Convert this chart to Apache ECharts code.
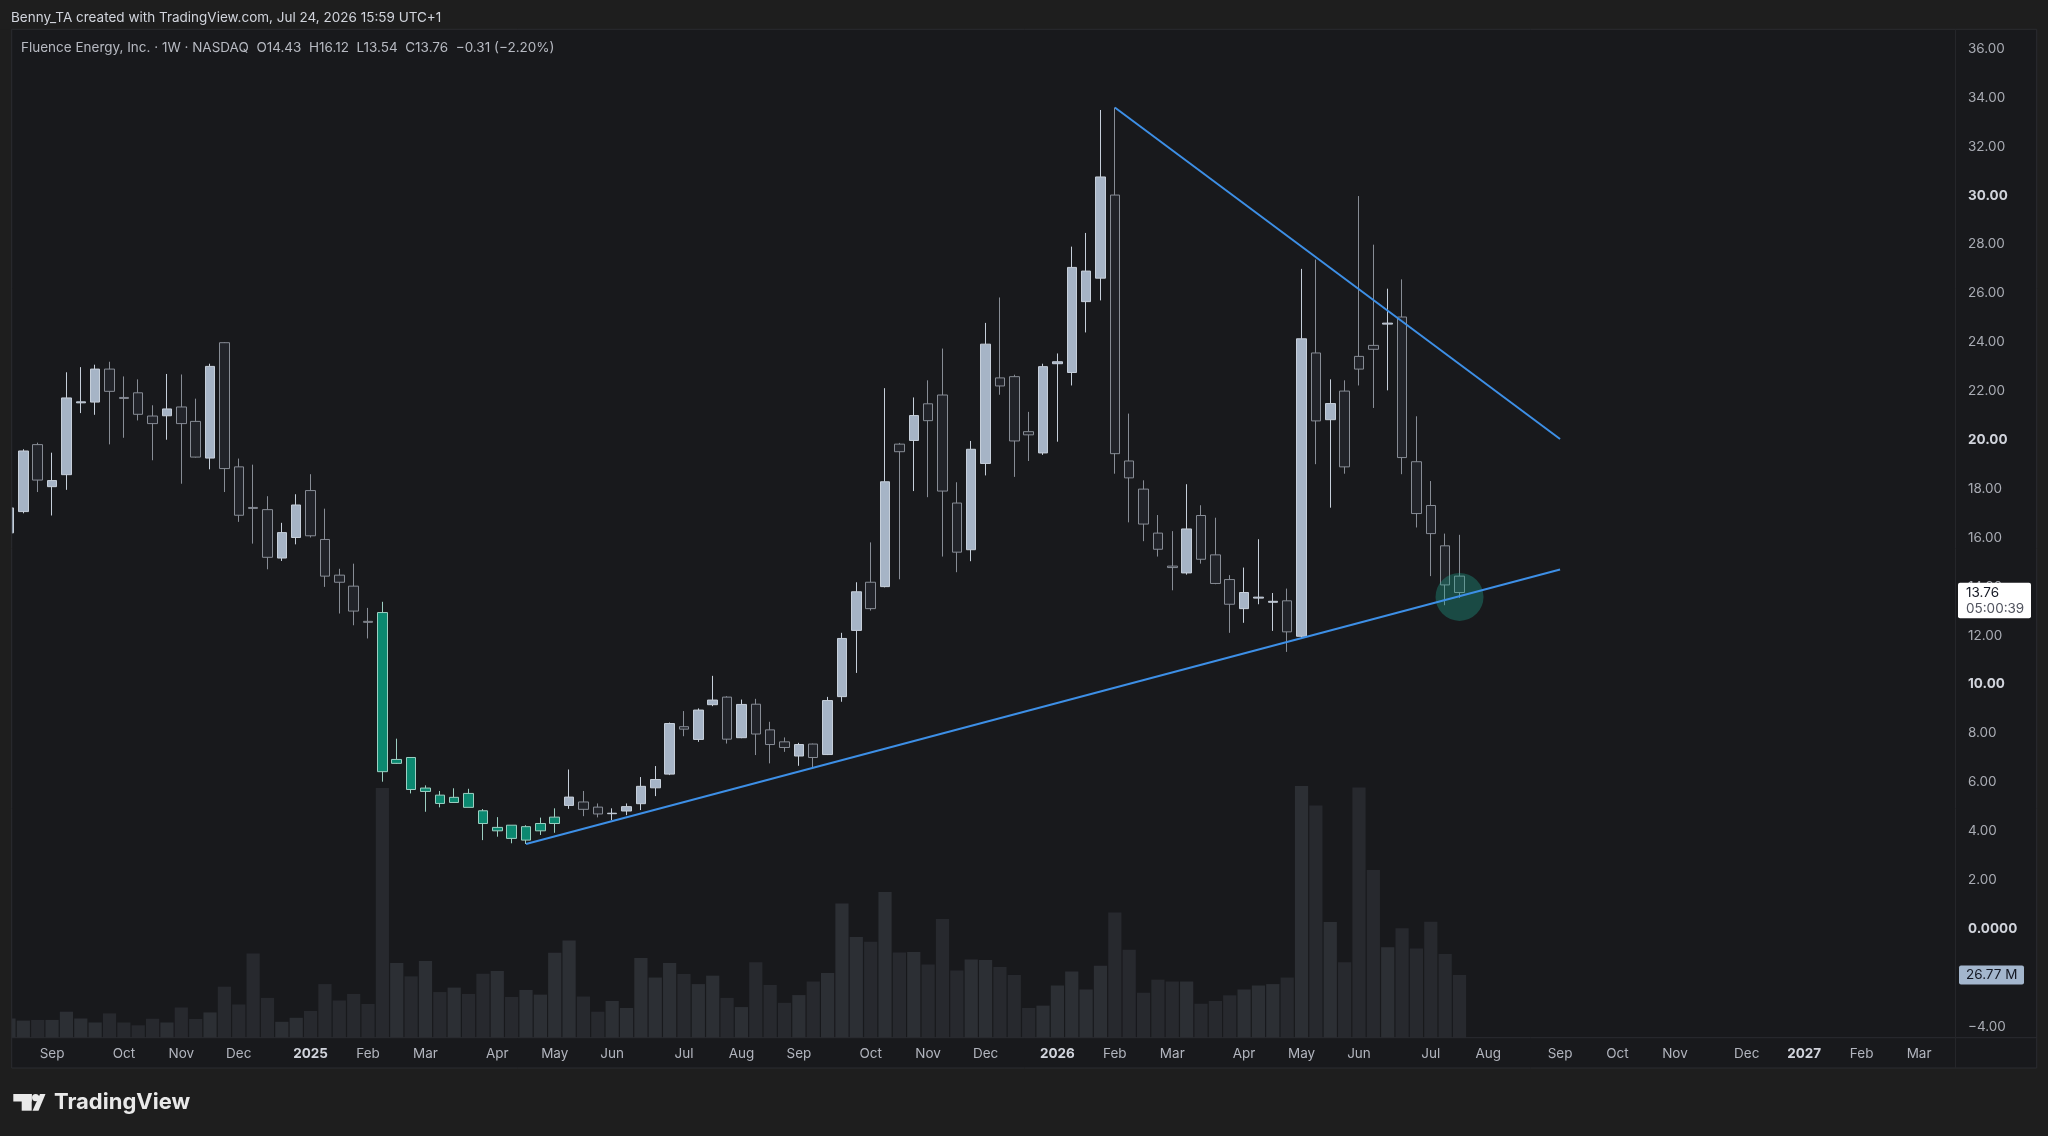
<!DOCTYPE html>
<html>
<head>
<meta charset="utf-8">
<script src="https://cdn.jsdelivr.net/npm/echarts@6/dist/echarts.min.js"></script>
<style>
  html, body { margin: 0; padding: 0; background: #1e1e1e; }
  #chart { width: 2048px; height: 1136px; }
</style>
</head>
<body>
<div id="chart"></div>
<script>
// ---------- DATA ----------
const START_WEEK = '2024-08-12';   // Monday of first weekly bar
const WEEK_COUNT = 136;            // bars + empty future weeks on the time axis
const MONTHS = ['Jan','Feb','Mar','Apr','May','Jun','Jul','Aug','Sep','Oct','Nov','Dec'];

const open  = [16.20,17.07,19.81,18.09,18.58,21.52,21.55,22.90,21.74,21.93,20.98,20.99,21.35,20.76,19.26,23.98,18.90,17.24,17.15,15.17,
               16.01,17.93,15.93,14.47,14.02,12.58,12.94,6.77,7.01,5.62,5.47,5.17,5.54,4.83,4.01,4.24,3.63,4.01,4.31,5.05,
               5.19,4.98,4.71,4.82,5.12,5.77,6.33,8.27,7.75,9.17,9.48,7.82,9.19,8.14,7.65,7.07,7.56,7.13,9.50,12.21,
               14.18,14.00,19.83,19.98,21.48,21.84,17.42,15.51,19.04,22.54,22.59,20.34,19.47,23.12,22.76,25.66,26.62,30.02,19.14,17.99,
               16.19,14.84,14.56,16.91,15.30,14.29,13.10,13.53,13.36,13.42,11.97,23.56,20.83,22.00,23.42,23.87,24.74,25.03,19.11,17.32,
               15.67,14.43];
const close = [17.22,19.55,18.36,18.34,21.72,21.56,22.90,21.99,21.70,21.05,20.67,21.27,20.67,19.30,23.01,18.83,16.92,17.20,15.20,16.21,
               17.34,16.08,14.43,14.18,13.00,12.54,6.43,6.93,5.70,5.76,5.13,5.38,4.97,4.31,4.15,3.70,4.18,4.31,4.57,5.39,
               4.89,4.70,4.73,5.00,5.83,6.11,8.40,8.17,8.95,9.36,7.76,9.18,7.97,7.54,7.42,7.54,7.01,9.34,11.88,13.79,
               13.10,18.29,19.52,21.00,20.79,17.91,15.41,19.62,23.92,22.21,19.96,20.21,23.00,23.20,27.06,26.91,30.76,19.44,18.45,16.56,
               15.53,14.78,16.36,15.12,14.13,13.28,13.76,13.57,13.40,12.15,24.14,20.78,21.49,18.90,22.90,23.71,24.78,19.28,16.99,16.17,
               14.07,13.76];
const low   = [16.10,17.00,17.87,16.91,17.96,21.10,21.03,19.82,20.09,20.80,19.17,20.01,18.21,19.28,18.80,17.87,16.65,15.76,14.71,15.05,
               15.73,16.01,13.99,12.90,12.42,11.88,6.02,6.75,5.54,4.79,4.97,5.15,4.97,3.63,3.77,3.50,3.47,3.84,3.93,4.91,
               4.61,4.56,4.45,4.65,4.86,5.43,6.29,7.88,7.65,9.11,7.58,7.80,7.11,6.77,7.24,6.67,6.60,7.11,9.29,10.47,
               13.02,13.97,14.30,17.91,17.66,15.23,14.59,15.04,18.55,21.85,18.49,19.14,19.39,19.93,22.23,24.40,25.71,18.62,16.63,15.86,
               15.23,13.85,14.49,14.94,14.10,12.11,12.52,13.28,12.19,11.33,11.90,19.01,17.23,18.62,22.23,21.31,22.03,18.60,16.42,14.43,
               13.24,13.54];
const high  = [17.30,19.62,19.89,19.48,22.77,22.98,23.08,23.20,22.60,22.48,21.42,22.70,22.68,21.69,23.12,24.00,19.24,18.99,17.70,16.61,
               17.78,18.60,17.19,14.73,14.94,13.13,13.38,7.78,7.03,5.87,5.64,5.75,5.73,4.90,4.57,4.24,4.24,4.55,4.93,6.52,
               5.64,5.13,4.93,5.13,6.21,6.66,8.44,8.91,9.02,10.35,9.52,9.38,9.41,8.47,7.83,7.61,7.58,9.49,12.11,14.18,
               15.81,22.12,19.88,21.74,22.44,23.74,18.27,19.96,24.79,25.83,22.67,21.15,23.12,23.54,27.91,28.47,33.50,33.60,21.08,18.35,
               16.93,16.27,18.19,17.33,16.82,14.47,14.78,15.94,13.74,13.92,27.00,27.38,22.48,22.44,29.98,27.99,26.19,26.57,20.97,18.32,
               16.17,16.12];
// weekly volume, millions of shares
const volume = [8.2,7.3,7.6,7.6,11.1,8.2,6.5,10.4,6.5,5.3,8.1,6.5,12.9,8.0,10.8,21.8,14.2,36.0,17.0,6.8,
                8.5,11.4,22.9,15.9,18.7,14.4,106.7,31.9,26.2,32.8,19.5,21.4,18.7,27.3,28.5,17.4,20.4,18.4,36.3,41.5,
                17.6,11.1,15.7,12.7,34.0,25.7,31.9,27.2,22.9,26.5,17.0,13.1,32.2,22.5,14.9,18.2,24.0,27.6,57.3,43.0,
                41.0,62.2,36.4,36.6,31.3,50.7,28.7,33.4,33.2,30.2,26.8,12.7,13.7,22.3,28.3,20.6,30.7,53.5,37.6,19.2,
                24.8,24.0,24.0,14.5,15.7,18.1,20.6,22.3,22.9,25.7,107.5,99.2,49.4,32.2,106.9,71.6,38.6,46.7,38.1,49.5,
                35.7,26.77];
const tealRange = [26, 38];               // highlighted bars (first, last index)
const trendLines = [                      // [barIndex, price] endpoints
  [[36, 3.47], [108, 14.70]],
  [[77, 33.60], [108, 20.04]]
];
const highlightCircle = [101, 13.58];
const countdown = '05:00:39';
const priceTicks = { min: -6, max: 38, step: 2, shownMin: -4, shownMax: 36 };

// ---------- BUILD ----------
const DAY = 86400000;
const startMs = Date.parse(START_WEEK + 'T00:00:00Z');
const categories = [];
for (let i = 0; i < WEEK_COUNT; i++) {
  categories.push(new Date(startMs + i * 7 * DAY).toISOString().slice(0, 10));
}
const monthOf = s => +s.slice(5, 7) - 1;

const FONT = 'Inter, "Noto Sans", Roboto, sans-serif';
const UP_FILL = '#a6b4c6', UP_BORDER = '#c6cfda';
const DN_FILL = '#212329', DN_BORDER = '#878c95';
const TEAL_FILL = '#0b8870', TEAL_BORDER = '#9ccfc2';

const candleData = open.map((o, i) => {
  const item = { value: [o, close[i], low[i], high[i]] };
  if (i >= tealRange[0] && i <= tealRange[1]) {
    item.itemStyle = { color: TEAL_FILL, color0: TEAL_FILL, borderColor: TEAL_BORDER, borderColor0: TEAL_BORDER };
  }
  return item;
});
const volumeData = volume.map((v, i) => ({
  value: v,
  itemStyle: { color: close[i] >= open[i] ? '#2c2f34' : '#27292e' }
}));

const last = open.length - 1;
const chg = close[last] - close[last - 1];
const pct = chg / close[last - 1] * 100;
const fmtSigned = v => (v < 0 ? '\u2212' : '+') + Math.abs(v).toFixed(2);

const chart = echarts.init(document.getElementById('chart'), null, { renderer: 'canvas' });

const option = {
  backgroundColor: '#1e1e1e',
  animation: false,
  textStyle: { fontFamily: FONT },
  grid: [
    { left: 1.8, right: 93, top: -0.62, height: 1076.12 },
    { left: 1.8, right: 93, top: 29.3, bottom: 98.3 }
  ],
  xAxis: [
    { type: 'category', gridIndex: 0, data: categories, boundaryGap: true, show: false },
    {
      type: 'category', gridIndex: 1, data: categories, boundaryGap: true,
      axisLine: { show: false }, axisTick: { show: false }, splitLine: { show: false },
      axisLabel: {
        margin: 9, fontSize: 13.5, color: '#b2b5be', fontFamily: FONT,
        interval: (idx) => idx > 0 && monthOf(categories[idx]) !== monthOf(categories[idx - 1]),
        formatter: (val) => {
          const m = monthOf(val);
          return m === 0 ? '{y|' + val.slice(0, 4) + '}' : MONTHS[m];
        },
        rich: { y: { fontWeight: 'bold', color: '#d1d4dc', fontSize: 13.5, fontFamily: FONT } }
      }
    }
  ],
  yAxis: [
    {
      type: 'value', gridIndex: 0, position: 'right', scale: true,
      min: priceTicks.min, max: priceTicks.max, interval: priceTicks.step,
      axisLine: { show: false }, axisTick: { show: false }, splitLine: { show: false },
      axisLabel: {
        margin: 13, fontSize: 13.5, color: '#a9acb4', fontFamily: FONT,
        formatter: (v) => {
          if (v > priceTicks.shownMax || v < priceTicks.shownMin) return '';
          let s = v === 0 ? '0.0000' : Math.abs(v).toFixed(2);
          if (v < 0) s = '\u2212' + s;
          return v % 10 === 0 ? '{b|' + s + '}' : s;
        },
        rich: { b: { fontWeight: 'bold', color: '#d1d4dc', fontSize: 13.5, fontFamily: FONT } }
      }
    },
    { type: 'value', gridIndex: 1, min: 0, max: 430.7, show: false }
  ],
  series: [
    {
      type: 'bar', name: 'Volume', xAxisIndex: 1, yAxisIndex: 1,
      data: volumeData, barCategoryGap: '8%', z: 1, silent: true
    },
    {
      type: 'candlestick', name: 'FLNC', xAxisIndex: 0, yAxisIndex: 0,
      data: candleData, barWidth: 10, z: 3,
      itemStyle: { color: UP_FILL, color0: DN_FILL, borderColor: UP_BORDER, borderColor0: DN_BORDER, borderWidth: 1 }
    },
    {
      type: 'scatter', xAxisIndex: 0, yAxisIndex: 0, z: 4, silent: true,
      data: [[categories[highlightCircle[0]], highlightCircle[1]]],
      symbolSize: 48, itemStyle: { color: 'rgba(34,171,148,0.42)' }
    },
    {
      type: 'line', xAxisIndex: 0, yAxisIndex: 0, z: 5, data: [], silent: true,
      markLine: {
        silent: true, symbol: ['none', 'none'], label: { show: false },
        lineStyle: { color: '#3d8fe6', width: 2, type: 'solid' },
        emphasis: { disabled: true },
        data: trendLines.map(([a, b]) => [
          { coord: [categories[a[0]], a[1]] },
          { coord: [categories[b[0]], b[1]] }
        ])
      }
    }
  ]
};
chart.setOption(option);

// ---------- DECORATION (text + tags positioned through the axes) ----------
const yPrice = chart.convertToPixel({ yAxisIndex: 0 }, close[last]);
const yVol = chart.convertToPixel({ yAxisIndex: 1 }, volume[last]);

const BOX = { x: 11.7, y: 29.3, w: 2025, h: 1038.7 };
const graphic = [
  { type: 'rect', z: -10, shape: { x: BOX.x, y: BOX.y, width: BOX.w, height: BOX.h }, style: { fill: '#18191c' } },
  { type: 'rect', z: 50, shape: { x: 0, y: BOX.y, width: BOX.x, height: BOX.h }, style: { fill: '#1e1e1e' } },
  { type: 'rect', z: 51, shape: { x: BOX.x, y: BOX.y, width: BOX.w, height: BOX.h }, style: { fill: 'none', stroke: '#2b2c30', lineWidth: 1 } },
  { type: 'line', z: 51, shape: { x1: BOX.x, y1: 1037.7, x2: BOX.x + BOX.w, y2: 1037.7 }, style: { stroke: '#2b2c30', lineWidth: 1 } },
  { type: 'line', z: 51, shape: { x1: 1955.5, y1: BOX.y, x2: 1955.5, y2: BOX.y + BOX.h }, style: { stroke: '#25262a', lineWidth: 1 } },
  { type: 'text', z: 52, style: { x: 11, y: 17.5, text: 'Benny_TA created with TradingView.com, Jul 24, 2026 15:59 UTC+1',
      fill: '#d1d4dc', font: '13.5px ' + FONT, verticalAlign: 'middle' } },
  { type: 'text', z: 52, style: { x: 21, y: 48.3,
      text: 'Fluence Energy, Inc. \u00b7 1W \u00b7 NASDAQ  O' + open[last].toFixed(2) + '  H' + high[last].toFixed(2) +
            '  L' + low[last].toFixed(2) + '  C' + close[last].toFixed(2) + '  ' + fmtSigned(chg) + ' (' + fmtSigned(pct) + '%)',
      fill: '#b7bac2', font: '13.5px ' + FONT, verticalAlign: 'middle' } },
  // price tag
  { type: 'rect', z: 60, shape: { x: 1958, y: yPrice - 9.8, width: 73, height: 35.5, r: 2 }, style: { fill: '#ffffff' } },
  { type: 'text', z: 61, style: { x: 1966, y: yPrice, text: close[last].toFixed(2), fill: '#131722', font: '13.5px ' + FONT, verticalAlign: 'middle' } },
  { type: 'text', z: 61, style: { x: 1966, y: yPrice + 16.5, text: countdown, fill: '#50535e', font: '13.5px ' + FONT, verticalAlign: 'middle' } },
  // volume tag
  { type: 'rect', z: 60, shape: { x: 1959, y: yVol - 9.5, width: 65, height: 19, r: 2 }, style: { fill: '#a3b6cd' } },
  { type: 'text', z: 61, style: { x: 1966, y: yVol, text: volume[last].toFixed(2) + ' M', fill: '#131722', font: '13.5px ' + FONT, verticalAlign: 'middle' } },
  // TradingView logo
  { type: 'rect', z: 52, shape: { x: 13.3, y: 1094, width: 18.4, height: 7.5 }, style: { fill: '#e9e9e9' } },
  { type: 'rect', z: 52, shape: { x: 21.7, y: 1094, width: 10, height: 16.7 }, style: { fill: '#e9e9e9' } },
  { type: 'circle', z: 52, shape: { cx: 35.6, cy: 1097.6, r: 3.6 }, style: { fill: '#e9e9e9' } },
  { type: 'polygon', z: 52, shape: { points: [[40, 1094], [45.5, 1094], [38.5, 1110.7], [32.5, 1110.7]] }, style: { fill: '#e9e9e9' } },
  { type: 'text', z: 52, style: { x: 54, y: 1102.5, text: 'TradingView', fill: '#e9e9e9', font: 'bold 22px ' + FONT, verticalAlign: 'middle' } }
];
chart.setOption({ graphic: graphic });
</script>
</body>
</html>
